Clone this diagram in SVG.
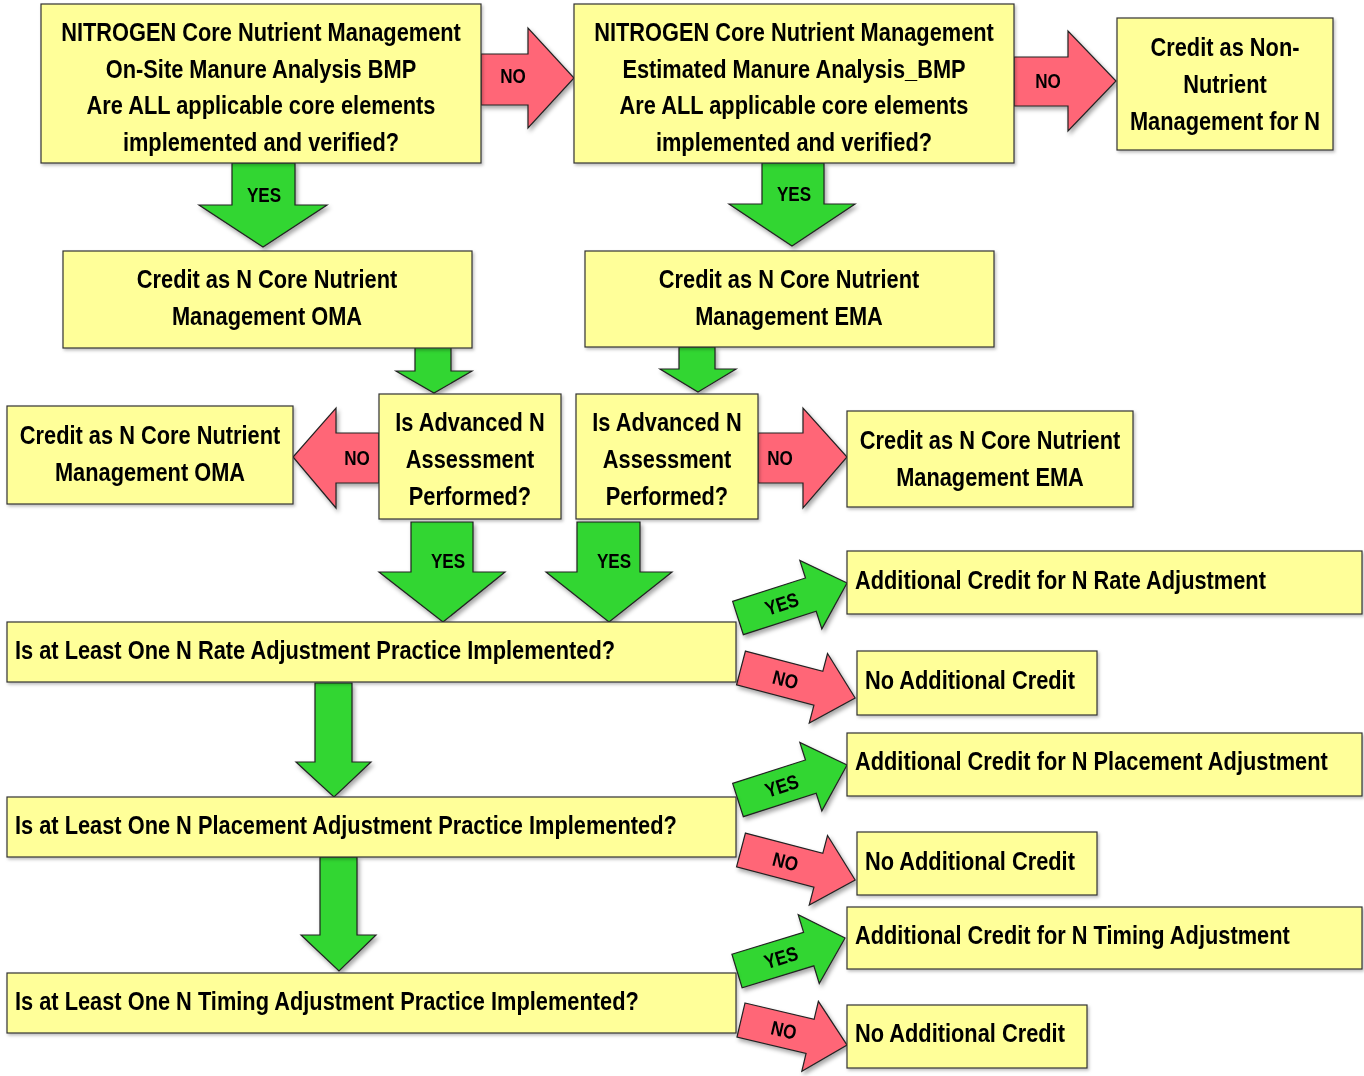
<svg xmlns="http://www.w3.org/2000/svg" width="1364" height="1076" viewBox="0 0 1364 1076">
<defs>
<style>
.box{fill:#FFFF99;stroke:#333;stroke-width:1.2}
.ar{stroke:#222;stroke-width:1.2;stroke-linejoin:miter}
.g{fill:#30D630}
.r{fill:#FF6677}
.t{font-family:"Liberation Sans",Arial,Helvetica,sans-serif;font-weight:bold;font-size:25.5px;fill:#000}
.l{font-family:"Liberation Sans",Arial,Helvetica,sans-serif;font-weight:bold;font-size:20px;fill:#000;text-anchor:middle}
.c{text-anchor:middle}
</style>
<filter id="sh" x="-20%" y="-20%" width="150%" height="150%"><feDropShadow dx="2" dy="3" stdDeviation="2" flood-color="#000" flood-opacity="0.35"/></filter>
<filter id="bs" x="-5%" y="-10%" width="110%" height="130%"><feDropShadow dx="1.5" dy="2" stdDeviation="1.5" flood-color="#000" flood-opacity="0.25"/></filter>
</defs>
<rect width="1364" height="1076" fill="#fff"/>

<g id="connectors">
  <g filter="url(#sh)">
    <polygon class="ar r" points="481,54 528,54 528,28 574,78 528,128 528,105 481,105"/>
    <polygon class="ar r" points="1014,57 1068,57 1068,31 1116,81 1068,131 1068,106 1014,106"/>
    <polygon class="ar g" points="232,163 295,163 295,205 327,205 263,247 199,205 232,205"/>
    <polygon class="ar g" points="762,163 824,163 824,204 855,204 792,246 729,204 762,204"/>
    <polygon class="ar g" points="415,347 451,347 451,371 472,371 434,393 396,371 415,371"/>
    <polygon class="ar g" points="679,347 715,347 715,369 736,369 698,392 660,369 679,369"/>
    <polygon class="ar r" points="379,433 336,433 336,408 293,457 336,508 336,483 379,483"/>
    <polygon class="ar r" points="758,433 803,433 803,408 847,457 803,508 803,483 758,483"/>
    <polygon class="ar g" points="411,522 473,522 473,572 505,572 443,622 379,572 411,572"/>
    <polygon class="ar g" points="577,522 640,522 640,572 672,572 609,622 546,572 577,572"/>
    <polygon class="ar g" points="315,683 352,683 352,762 371,762 334,797 296,762 315,762"/>
    <polygon class="ar g" points="320,857 357,857 357,935 376,935 339,971 301,935 320,935"/>
    <polygon class="ar g" transform="translate(738,618) rotate(-17.8)" points="0,-17.5 76.5,-17.5 76.5,-36 114.5,0 76.5,36 76.5,17.5 0,17.5"/>
    <polygon class="ar r" transform="translate(741,668) rotate(14.7)" points="0,-17.5 80,-17.5 80,-36 118,0 80,36 80,17.5 0,17.5"/>
    <polygon class="ar g" transform="translate(738,800) rotate(-17.8)" points="0,-17.5 76.5,-17.5 76.5,-36 114.5,0 76.5,36 76.5,17.5 0,17.5"/>
    <polygon class="ar r" transform="translate(741,850) rotate(14.7)" points="0,-17.5 80,-17.5 80,-36 118,0 80,36 80,17.5 0,17.5"/>
    <polygon class="ar g" transform="translate(737,971) rotate(-17)" points="0,-17.5 75,-17.5 75,-36 113,0 75,36 75,17.5 0,17.5"/>
    <polygon class="ar r" transform="translate(741,1020) rotate(13.3)" points="0,-17.5 71,-17.5 71,-36 109,0 71,36 71,17.5 0,17.5"/>
  </g>
  <g id="labels">
    <text class="l" transform="translate(513,83) scale(0.855,1)">NO</text>
    <text class="l" transform="translate(1048,88) scale(0.855,1)">NO</text>
    <text class="l" transform="translate(264,202) scale(0.855,1)">YES</text>
    <text class="l" transform="translate(794,201) scale(0.855,1)">YES</text>
    <text class="l" transform="translate(357,465) scale(0.855,1)">NO</text>
    <text class="l" transform="translate(780,465) scale(0.855,1)">NO</text>
    <text class="l" transform="translate(448,568) scale(0.855,1)">YES</text>
    <text class="l" transform="translate(614,568) scale(0.855,1)">YES</text>
    <text class="l" transform="translate(738,618) rotate(-17.8) translate(46,7) scale(0.855,1)">YES</text>
    <text class="l" transform="translate(741,668) rotate(14.7) translate(46,7) scale(0.855,1)">NO</text>
    <text class="l" transform="translate(738,800) rotate(-17.8) translate(46,7) scale(0.855,1)">YES</text>
    <text class="l" transform="translate(741,850) rotate(14.7) translate(46,7) scale(0.855,1)">NO</text>
    <text class="l" transform="translate(737,971) rotate(-17) translate(46,7) scale(0.855,1)">YES</text>
    <text class="l" transform="translate(741,1020) rotate(13.3) translate(44,7) scale(0.855,1)">NO</text>
  </g>
</g>

<g id="nodes" filter="url(#bs)">
  <g id="n1">
    <rect class="box" x="41" y="4" width="440" height="159"/>
    <text class="t c" transform="translate(261,41) scale(0.855,1)">NITROGEN Core Nutrient Management</text>
    <text class="t c" transform="translate(261,78) scale(0.855,1)">On-Site Manure Analysis BMP</text>
    <text class="t c" transform="translate(261,114) scale(0.855,1)">Are ALL applicable core elements</text>
    <text class="t c" transform="translate(261,151) scale(0.855,1)">implemented and verified?</text>
  </g>
  <g id="n2">
    <rect class="box" x="574" y="4" width="440" height="159"/>
    <text class="t c" transform="translate(794,41) scale(0.855,1)">NITROGEN Core Nutrient Management</text>
    <text class="t c" transform="translate(794,78) scale(0.855,1)">Estimated Manure Analysis_BMP</text>
    <text class="t c" transform="translate(794,114) scale(0.855,1)">Are ALL applicable core elements</text>
    <text class="t c" transform="translate(794,151) scale(0.855,1)">implemented and verified?</text>
  </g>
  <g id="n3">
    <rect class="box" x="1117" y="18" width="216" height="132"/>
    <text class="t c" transform="translate(1225,56) scale(0.855,1)">Credit as Non-</text>
    <text class="t c" transform="translate(1225,93) scale(0.855,1)">Nutrient</text>
    <text class="t c" transform="translate(1225,130) scale(0.855,1)">Management for N</text>
  </g>
  <g id="n4">
    <rect class="box" x="63" y="251" width="409" height="97"/>
    <text class="t c" transform="translate(267,288) scale(0.855,1)">Credit as N Core Nutrient</text>
    <text class="t c" transform="translate(267,325) scale(0.855,1)">Management OMA</text>
  </g>
  <g id="n5">
    <rect class="box" x="585" y="251" width="409" height="96"/>
    <text class="t c" transform="translate(789,288) scale(0.855,1)">Credit as N Core Nutrient</text>
    <text class="t c" transform="translate(789,325) scale(0.855,1)">Management EMA</text>
  </g>
  <g id="n6">
    <rect class="box" x="379" y="394" width="182" height="125"/>
    <text class="t c" transform="translate(470,431) scale(0.855,1)">Is Advanced N</text>
    <text class="t c" transform="translate(470,468) scale(0.855,1)">Assessment</text>
    <text class="t c" transform="translate(470,505) scale(0.855,1)">Performed?</text>
  </g>
  <g id="n7">
    <rect class="box" x="576" y="394" width="182" height="125"/>
    <text class="t c" transform="translate(667,431) scale(0.855,1)">Is Advanced N</text>
    <text class="t c" transform="translate(667,468) scale(0.855,1)">Assessment</text>
    <text class="t c" transform="translate(667,505) scale(0.855,1)">Performed?</text>
  </g>
  <g id="n8">
    <rect class="box" x="7" y="406" width="286" height="98"/>
    <text class="t c" transform="translate(150,444) scale(0.855,1)">Credit as N Core Nutrient</text>
    <text class="t c" transform="translate(150,481) scale(0.855,1)">Management OMA</text>
  </g>
  <g id="n9">
    <rect class="box" x="847" y="411" width="286" height="96"/>
    <text class="t c" transform="translate(990,449) scale(0.855,1)">Credit as N Core Nutrient</text>
    <text class="t c" transform="translate(990,486) scale(0.855,1)">Management EMA</text>
  </g>
  <g id="n10">
    <rect class="box" x="7" y="622" width="729" height="60"/>
    <text class="t" transform="translate(15,659) scale(0.855,1)">Is at Least One N Rate Adjustment Practice Implemented?</text>
  </g>
  <g id="n11">
    <rect class="box" x="7" y="797" width="729" height="60"/>
    <text class="t" transform="translate(15,834) scale(0.855,1)">Is at Least One N Placement Adjustment Practice Implemented?</text>
  </g>
  <g id="n12">
    <rect class="box" x="7" y="973" width="729" height="60"/>
    <text class="t" transform="translate(15,1010) scale(0.855,1)">Is at Least One N Timing Adjustment Practice Implemented?</text>
  </g>
  <g id="n13">
    <rect class="box" x="847" y="551" width="515" height="63"/>
    <text class="t" transform="translate(855,589) scale(0.855,1)">Additional Credit for N Rate Adjustment</text>
  </g>
  <g id="n14">
    <rect class="box" x="857" y="651" width="240" height="64"/>
    <text class="t" transform="translate(865,689) scale(0.855,1)">No Additional Credit</text>
  </g>
  <g id="n15">
    <rect class="box" x="847" y="733" width="515" height="63"/>
    <text class="t" transform="translate(855,770) scale(0.855,1)">Additional Credit for N Placement Adjustment</text>
  </g>
  <g id="n16">
    <rect class="box" x="857" y="832" width="240" height="63"/>
    <text class="t" transform="translate(865,870) scale(0.855,1)">No Additional Credit</text>
  </g>
  <g id="n17">
    <rect class="box" x="847" y="907" width="515" height="62"/>
    <text class="t" transform="translate(855,944) scale(0.855,1)">Additional Credit for N Timing Adjustment</text>
  </g>
  <g id="n18">
    <rect class="box" x="847" y="1005" width="240" height="63"/>
    <text class="t" transform="translate(855,1042) scale(0.855,1)">No Additional Credit</text>
  </g>
</g>
</svg>
